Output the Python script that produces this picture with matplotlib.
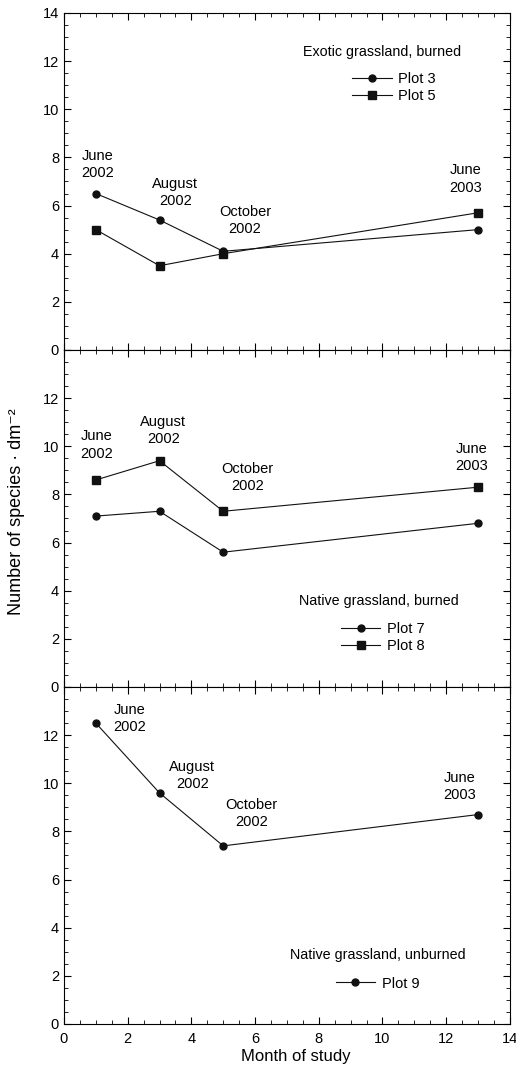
import matplotlib
matplotlib.use("Agg")
import matplotlib.pyplot as plt
from matplotlib.ticker import MultipleLocator

plt.rcParams['font.family'] = ['Liberation Sans', 'DejaVu Sans']
plt.rcParams['font.size'] = 10

months = [1, 3, 5, 13]
dates = ['June\n2002', 'August\n2002', 'October\n2002', 'June\n2003']

plot3 = [6.5, 5.4, 4.1, 5.0]
plot5 = [5.0, 3.5, 4.0, 5.7]
plot7 = [7.1, 7.3, 5.6, 6.8]
plot8 = [8.6, 9.4, 7.3, 8.3]
plot9 = [12.5, 9.6, 7.4, 8.7]

titles = ['Exotic grassland, burned', 'Native grassland, burned', 'Native grassland, unburned']

# label positions per panel (x, y) in data units
label_pos = [
    [(1.05, 7.7), (3.5, 6.55), (5.68, 5.38), (12.61, 7.1)],
    [(1.03, 10.05), (3.12, 10.66), (5.76, 8.69), (12.79, 9.53)],
    [(2.07, 12.7), (4.03, 10.33), (5.89, 8.74), (12.42, 9.88)],
]
title_pos = [(10.0, 12.37), (9.89, 3.59), (9.87, 2.88)]
legend_pos = [(9.05, 10.9), (8.7, 2.05), (8.53, 1.68)]

series = [
    [(plot3, 'o', 'Plot 3'), (plot5, 's', 'Plot 5')],
    [(plot7, 'o', 'Plot 7'), (plot8, 's', 'Plot 8')],
    [(plot9, 'o', 'Plot 9')],
]

fig, axes = plt.subplots(3, 1, figsize=(5.16, 10.65), dpi=100, sharex=True)
fig.subplots_adjust(left=0.124, right=0.988, bottom=0.0385, top=0.9878, hspace=0)

for i, ax in enumerate(axes):
    for vals, mk, name in series[i]:
        ms = 5.0 if mk == 'o' else 5.4
        ax.plot(months, vals, marker=mk, color='#111111', lw=0.8, ms=ms, label=name)
    for (tx, ty), d in zip(label_pos[i], dates):
        ax.text(tx, ty, d, ha='center', va='center', fontsize=10.5, linespacing=1.3)
    ax.text(title_pos[i][0], title_pos[i][1], titles[i], ha='center', va='center', fontsize=10.3)
    lx, ly = legend_pos[i]
    ax.legend(loc='center left', bbox_to_anchor=(lx, ly), bbox_transform=ax.transData,
              frameon=False, borderpad=0, borderaxespad=0, handlelength=2.7,
              handletextpad=0.45, labelspacing=0.2, fontsize=10.5)

    ax.set_xlim(0, 14)
    ax.set_ylim(0, 14)
    ax.xaxis.set_major_locator(MultipleLocator(2))
    ax.xaxis.set_minor_locator(MultipleLocator(0.5))
    ax.set_yticks(range(0, 15, 2))
    ax.yaxis.set_minor_locator(MultipleLocator(0.5))
    if i > 0:
        ax.set_yticklabels([str(v) for v in range(0, 13, 2)] + [''])
    ax.tick_params(which='both', direction='in', top=True, right=True, labelsize=10.5)
    ax.tick_params(which='major', length=5, width=0.8)
    ax.tick_params(which='minor', length=3, width=0.6)
    ax.tick_params(axis='x', pad=6)
    for s in ax.spines.values():
        s.set_linewidth(0.8)

axes[2].set_xlabel('Month of study', fontsize=12)
axes[2].xaxis.set_label_coords(0.52, -0.075)
fig.text(17 / 516, 1 - 512 / 1065, 'Number of species · dm⁻²', rotation=90,
         ha='center', va='center', fontsize=13)

fig.savefig('out.png', dpi=100)
